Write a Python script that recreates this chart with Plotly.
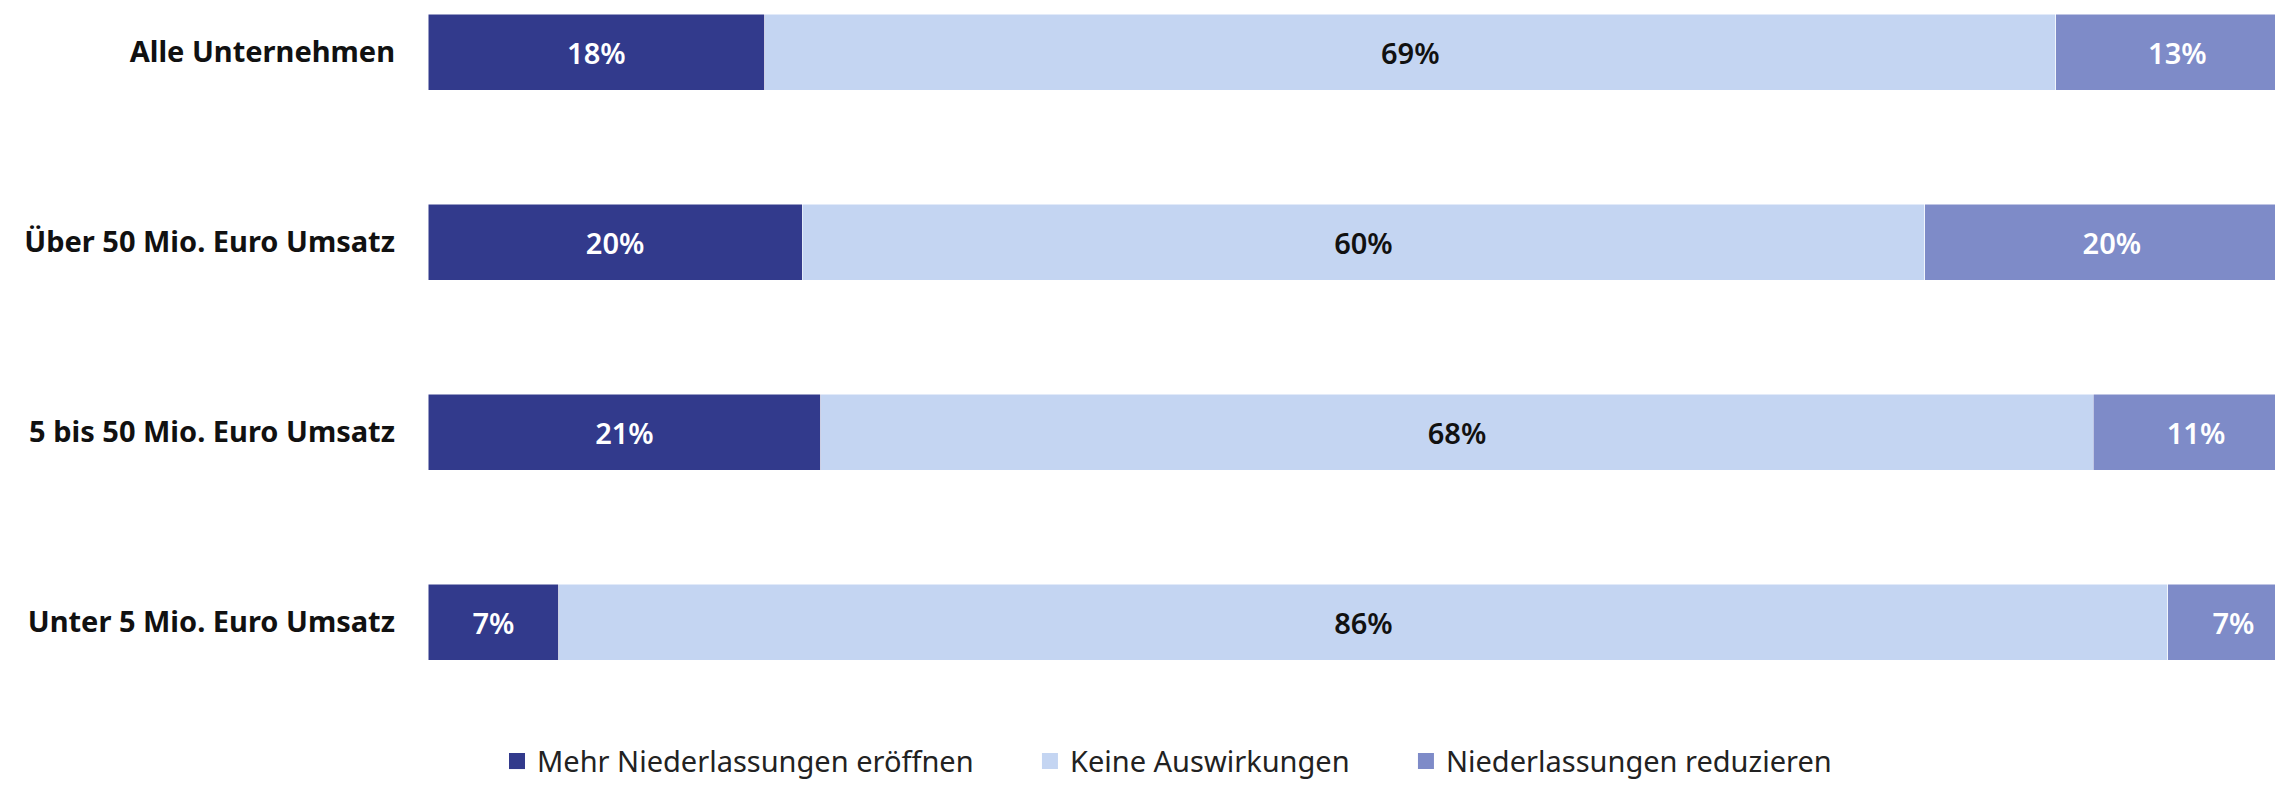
import plotly.graph_objects as go

categories = ["Alle Unternehmen", "Über 50 Mio. Euro Umsatz",
              "5 bis 50 Mio. Euro Umsatz", "Unter 5 Mio. Euro Umsatz"]
mehr = [18, 20, 21, 7]
keine = [69, 60, 68, 86]
weniger = [13, 20, 11, 7]

series = [
    ("Mehr Niederlassungen eröffnen", mehr, "#323A8C", "white"),
    ("Keine Auswirkungen", keine, "#C4D5F2", "#111111"),
    ("Niederlassungen reduzieren", weniger, "#7E8BC8", "white"),
]
legend_x = [0.0372, 0.3245, 0.5272]

fig = go.Figure()
for name, vals, color, tcol in series:
    fig.add_trace(go.Bar(
        y=categories, x=vals, name=name, orientation="h", showlegend=False,
        marker=dict(color=color, line=dict(color="white", width=0.5)),
        text=[f"{v}%" for v in vals], textposition="inside",
        insidetextanchor="middle",
        textfont=dict(color=tcol, size=29, family="Noto Sans", weight=600),
    ))

# one legend per entry so the spacing can follow the original
legends = {}
for i, (name, vals, color, tcol) in enumerate(series):
    key = "legend" if i == 0 else f"legend{i + 1}"
    fig.add_trace(go.Scatter(
        x=[None], y=[None], mode="markers", name=name, legend=key,
        marker=dict(symbol="square", size=20, color=color),
    ))
    legends[key] = dict(orientation="h", x=legend_x[i] * 1855 / 1847,
                        xanchor="left",
                        y=-0.076, yanchor="middle", itemsizing="trace",
                        bgcolor="rgba(0,0,0,0)",
                        font=dict(size=29, color="#222222"))

# page body has an 8px margin on every side, so the figure is sized to fit
# the window without scrollbars; the original is cropped on the right,
# hence the x range < 100
fig.update_layout(
    barmode="stack", bargap=0.6,
    width=2267, height=775,
    margin=dict(l=420, r=0, t=0, b=75, autoexpand=False),
    plot_bgcolor="white", paper_bgcolor="white",
    font=dict(family="Noto Sans", color="#111111", size=24),
    xaxis=dict(range=[0, 98.72], visible=False, fixedrange=True),
    yaxis=dict(categoryorder="array", categoryarray=categories,
               range=[3.4526, -0.2316], showgrid=False, zeroline=False,
               showline=False, ticks="", ticklabelstandoff=32,
               automargin=False,
               tickfont=dict(size=29, family="Noto Sans", weight="bold",
                             color="#111111")),
    **legends,
)

fig.write_html("out.html")
